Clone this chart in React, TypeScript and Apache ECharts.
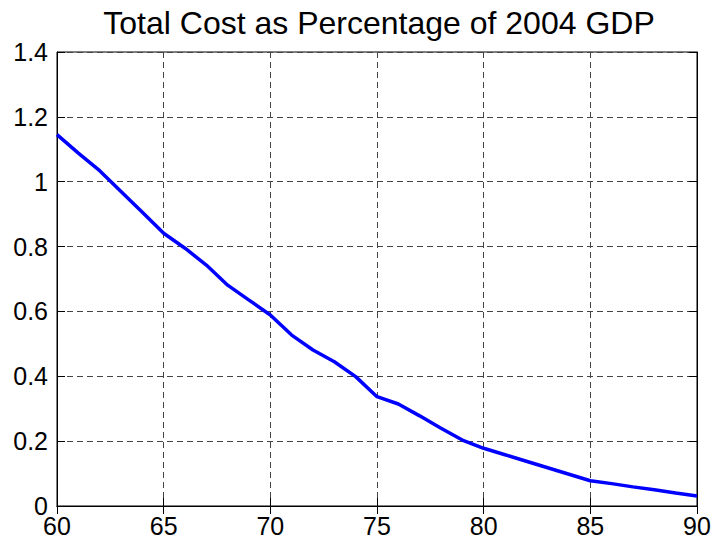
import React, { useEffect, useRef } from "react";
import * as echarts from "echarts";

const years = [60, 61, 62, 63, 64, 65, 66, 67, 68, 69, 70, 71, 72, 73, 74, 75, 76, 77, 78, 79, 80, 81, 82, 83, 84, 85, 86, 87, 88, 89, 90];
const costPct = [1.145, 1.088, 1.034, 0.97, 0.906, 0.841, 0.795, 0.743, 0.681, 0.635, 0.589, 0.527, 0.481, 0.445, 0.399, 0.337, 0.3145, 0.278, 0.24, 0.2035, 0.178, 0.158, 0.138, 0.118, 0.098, 0.078, 0.069, 0.059, 0.05, 0.04, 0.031];
const titleText = "Total Cost as Percentage of 2004 GDP";

const FONT = "'Liberation Sans', Arial, sans-serif";

export default function App() {
  const ref = useRef<HTMLDivElement>(null);
  useEffect(() => {
    if (!ref.current) return;
    const chart = echarts.init(ref.current, undefined, { renderer: "svg" });
    const gridLine = { show: true, lineStyle: { color: "#444", type: [6, 4] as any, width: 1 } };
    const fmt = (v: number) => String(parseFloat(v.toFixed(2)));
    chart.setOption({
      animation: false,
      backgroundColor: "#fff",
      title: {
        text: titleText,
        left: 374,
        textAlign: "center",
        top: 2,
        textStyle: { fontFamily: FONT, fontSize: 32, fontWeight: "normal", color: "#000" },
      },
      grid: { left: 57, right: 20, top: 52, bottom: 35, show: true, borderColor: "#000", borderWidth: 1 },
      xAxis: [
        {
          type: "value", min: 60, max: 90, interval: 5, position: "bottom",
          axisLine: { show: true, lineStyle: { color: "#000", width: 1 } },
          axisTick: { show: true, inside: true, length: 8, lineStyle: { color: "#000" } },
          axisLabel: { color: "#000", fontFamily: FONT, fontSize: 25, lineHeight: 19, margin: 10, formatter: fmt },
          splitLine: gridLine,
        },
        {
          type: "value", min: 60, max: 90, interval: 5, position: "top",
          axisLine: { show: true, lineStyle: { color: "#000", width: 1 } },
          axisTick: { show: true, inside: true, length: 8, lineStyle: { color: "#000" } },
          axisLabel: { show: false },
          splitLine: { show: false },
        },
      ],
      yAxis: [
        {
          type: "value", min: 0, max: 1.4, interval: 0.2, position: "left",
          axisLine: { show: true, lineStyle: { color: "#000", width: 1 } },
          axisTick: { show: true, inside: true, length: 8, lineStyle: { color: "#000" } },
          axisLabel: { color: "#000", fontFamily: FONT, fontSize: 25, lineHeight: 15, margin: 9, formatter: fmt },
          splitLine: gridLine,
        },
        {
          type: "value", min: 0, max: 1.4, interval: 0.2, position: "right",
          axisLine: { show: true, lineStyle: { color: "#000", width: 1 } },
          axisTick: { show: true, inside: true, length: 8, lineStyle: { color: "#000" } },
          axisLabel: { show: false },
          splitLine: { show: false },
        },
      ],
      series: [
        {
          type: "line",
          xAxisIndex: 0,
          yAxisIndex: 0,
          data: years.map((y, i) => [y, costPct[i]]),
          showSymbol: false,
          lineStyle: { color: "#0000ff", width: 3.5 },
          itemStyle: { color: "#0000ff" },
        },
      ],
    });
    return () => chart.dispose();
  }, []);
  return <div ref={ref} style={{ width: 717, height: 541, position: "absolute", left: 0, top: 0 }} />;
}
